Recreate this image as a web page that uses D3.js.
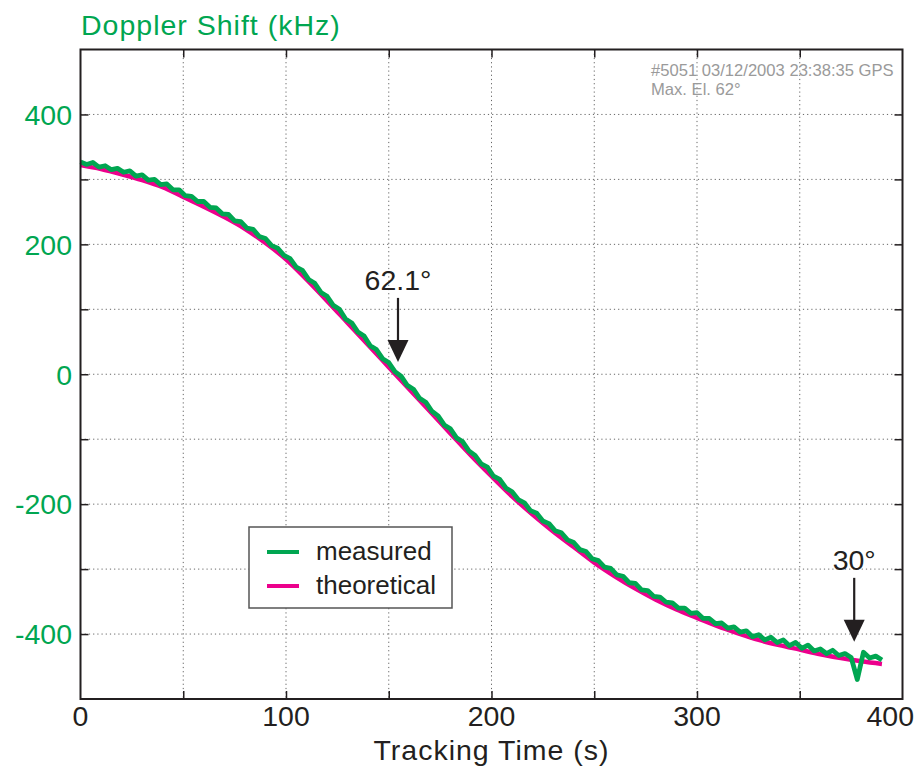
<!DOCTYPE html>
<html>
<head>
<meta charset="utf-8">
<script src="https://cdn.jsdelivr.net/npm/d3@7/dist/d3.min.js"></script>
<style>
  html, body { margin: 0; padding: 0; background: #fff; }
  svg { display: block; font-family: "Liberation Sans", Arial, Helvetica, sans-serif; }
</style>
</head>
<body>
<svg id="chart" width="920" height="771"></svg>
<script>
// Theoretical Doppler curve, sampled every 10 s (kHz)
const theoryTime = [0,10,20,30,40,50,60,70,80,90,100,110,120,130,140,150,160,170,180,190,
  200,210,220,230,240,250,260,270,280,290,300,310,320,330,340,350,360,370,380,390];
const theoryShift = [322,316,308,299,288,273,258,242,224,202,177,146,113,79,45,11,-23,-57,-91,-125,
  -157,-188,-216,-242,-266,-290,-311,-330,-347,-362,-375,-388,-399,-409,-417,-424,-431,-437,-442,-446];

// Measured Doppler shift, one reading every 3 s (kHz)
const measuredStart = 0;
const measuredStep = 3;
const measuredShift = [
  327,323,326,319,321,315,317,311,313,305,307,299,300,292,293,284,284,275,274,266,
  266,257,256,247,246,236,235,225,223,212,209,198,194,183,178,165,160,146,140,126,
  120,106,100,85,79,65,59,44,38,24,18,4,-3,-17,-23,-37,-43,-57,-64,-78,
  -84,-98,-104,-118,-125,-138,-143,-157,-162,-175,-181,-193,-198,-210,-214,-226,-230,-241,-244,-255,
  -259,-270,-273,-284,-287,-297,-299,-309,-311,-321,-322,-332,-333,-342,-343,-351,-352,-360,-360,-368,
  -367,-376,-376,-384,-383,-391,-389,-397,-395,-404,-401,-409,-405,-413,-409,-418,-413,-422,-417,-426,
  -423,-430,-425,-433,-430,-436,-470,-428,-437,-434,-440
];
const measuredTime = measuredShift.map((_, i) => measuredStart + i * measuredStep);

// Axis ticks
const xTicks = [0,100,200,300,400];
const xMinor = [50,150,250,350];
const yTicks = [-400,-200,0,200,400];
const yMinor = [-300,-100,100,300];

// Legend entries and annotations
const legendLabels = ["measured","theoretical"];
const passInfo = ["#5051 03/12/2003 23:38:35 GPS","Max. El. 62\u00b0"];
const markerLabels = ["62.1\u00b0","30\u00b0"];
const markerTime = [154.5, 376.5];
const markerShift = [19, -412];

const GREEN = "#00a651", MAGENTA = "#ec008c", INK = "#231f20";

const svg = d3.select("#chart");
svg.append("rect").attr("width",920).attr("height",771).attr("fill","#fff");

const x = d3.scaleLinear().domain([0,400]).range([80.5,902.5]);
const y = d3.scaleLinear().domain([-500,500]).range([699,49.5]);

// dotted grid
const grid = svg.append("g").attr("stroke","#666").attr("stroke-width",1)
  .attr("stroke-dasharray","1.2,3");
d3.range(50,400,50).forEach(t => grid.append("line")
  .attr("x1",x(t)).attr("x2",x(t)).attr("y1",y(500)).attr("y2",y(-500)));
d3.range(-400,500,100).forEach(v => grid.append("line")
  .attr("x1",x(0)).attr("x2",x(400)).attr("y1",y(v)).attr("y2",y(v)));

// axes with inward ticks
const allX = xTicks.concat(xMinor).filter(t => t > 0 && t < 400);
const allY = yTicks.concat(yMinor);
svg.append("g").attr("transform",`translate(0,${y(-500)})`)
  .call(d3.axisBottom(x).tickValues(allX).tickSize(-8).tickFormat(""))
  .call(g => g.select(".domain").remove());
svg.append("g").attr("transform",`translate(0,${y(500)})`)
  .call(d3.axisTop(x).tickValues(allX).tickSize(-8).tickFormat(""))
  .call(g => g.select(".domain").remove());
svg.append("g").attr("transform",`translate(${x(0)},0)`)
  .call(d3.axisLeft(y).tickValues(allY).tickSize(-8).tickFormat(""))
  .call(g => g.select(".domain").remove());
svg.append("g").attr("transform",`translate(${x(400)},0)`)
  .call(d3.axisRight(y).tickValues(allY).tickSize(-8).tickFormat(""))
  .call(g => g.select(".domain").remove());
svg.selectAll(".tick line").attr("stroke",INK).attr("stroke-width",1.5);

// tick labels (the last one is kept inside the page edge)
const lastX = xTicks[xTicks.length - 1];
svg.append("g").selectAll("text").data(xTicks).join("text")
  .attr("x", d => d === lastX ? 914 : x(d)).attr("y", 726)
  .attr("text-anchor", d => d === lastX ? "end" : "middle")
  .attr("font-size",28.5).attr("fill",INK).text(d => d);
svg.append("g").selectAll("text").data(yTicks).join("text")
  .attr("x", 72).attr("y", d => y(d)).attr("dy","0.36em").attr("text-anchor","end")
  .attr("font-size",28.5).attr("fill",GREEN).text(d => d);

// titles
svg.append("text").attr("x",81).attr("y",35).attr("font-size",28.5).attr("fill",GREEN)
  .attr("letter-spacing",1).text("Doppler Shift (kHz)");
svg.append("text").attr("x",(x(0)+x(400))/2).attr("y",760).attr("text-anchor","middle")
  .attr("font-size",28.5).attr("fill",INK).attr("letter-spacing",1).text("Tracking Time (s)");

// pass information
svg.append("g").selectAll("text").data(passInfo).join("text")
  .attr("x",651).attr("y",(d,i) => 76 + i*19).attr("font-size",16.6).attr("fill","#9a9a9a")
  .text(d => d);

// curves
const theory = theoryTime.map((t,i) => [t, theoryShift[i]]);
const measured = measuredTime.map((t,i) => [t, measuredShift[i]]);
svg.append("path").datum(theory)
  .attr("d", d3.line().x(d => x(d[0])).y(d => y(d[1])).curve(d3.curveMonotoneX))
  .attr("fill","none").attr("stroke",MAGENTA).attr("stroke-width",4.5).attr("stroke-linejoin","round");
svg.append("path").datum(measured)
  .attr("d", d3.line().x(d => x(d[0])).y(d => y(d[1])))
  .attr("fill","none").attr("stroke",GREEN).attr("stroke-width",4.8).attr("stroke-linejoin","round");

// frame
svg.append("rect").attr("x",x(0)).attr("y",y(500)).attr("width",x(400)-x(0))
  .attr("height",y(-500)-y(500)).attr("fill","none").attr("stroke",INK).attr("stroke-width",2);

// elevation markers
markerLabels.forEach((lab,i) => {
  const mx = x(markerTime[i]), tip = y(markerShift[i]);
  const g = svg.append("g");
  g.append("text").attr("x",mx).attr("y",tip-72).attr("text-anchor","middle")
    .attr("font-size",28.5).attr("fill",INK).text(lab);
  g.append("line").attr("x1",mx).attr("x2",mx).attr("y1",tip-64).attr("y2",tip-20)
    .attr("stroke",INK).attr("stroke-width",2.2);
  g.append("path").attr("d",`M${mx-10.5},${tip-22}L${mx+10.5},${tip-22}L${mx},${tip}Z`)
    .attr("fill",INK);
});

// legend
const lg = svg.append("g");
lg.append("rect").attr("x",249).attr("y",527).attr("width",203).attr("height",81)
  .attr("fill","#fff").attr("stroke","#555").attr("stroke-width",1.5);
[GREEN, MAGENTA].forEach((c,i) => {
  const cy = 552 + i*34;
  lg.append("line").attr("x1",267).attr("x2",299).attr("y1",cy).attr("y2",cy)
    .attr("stroke",c).attr("stroke-width",4);
  lg.append("text").attr("x",316).attr("y",cy+7.5).attr("font-size",26).attr("fill",INK)
    .text(legendLabels[i]);
});
</script>
</body>
</html>
